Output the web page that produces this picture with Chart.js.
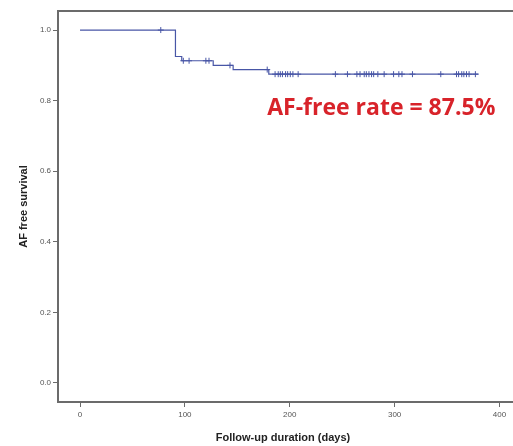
<!DOCTYPE html>
<html>
<head>
<meta charset="utf-8">
<script src="https://cdn.jsdelivr.net/npm/chart.js@4.4.0/dist/chart.umd.min.js"></script>
<style>
html,body{margin:0;padding:0;background:#fff;overflow:hidden;}
#wrap{position:relative;width:513px;height:446px;}
</style>
</head>
<body>
<div id="wrap"><canvas id="c" width="513" height="446"></canvas></div>
<script>
// Kaplan-Meier step values (days, survival)
const eventDays = [0, 91, 97, 127, 146, 180, 380];
const survival  = [1.0, 0.925, 0.913, 0.900, 0.888, 0.875, 0.875];
// Censored observations (days)
const censorDays = [77, 98.5, 104, 120, 123, 143, 178.5, 186, 189, 191, 193, 196, 198, 200.5, 203, 208,
  243.5, 255, 264, 267, 271, 273, 275.5, 278, 280, 284, 290, 299, 304, 307, 317,
  344, 359, 361, 364, 366, 368.5, 371, 377];
const xTicks = [0, 100, 200, 300, 400];
const yTicks = [0.0, 0.2, 0.4, 0.6, 0.8, 1.0];
const annotationText = 'AF-free rate = 87.5%';

function survAt(t){
  let s = survival[0];
  for (let i=0;i<eventDays.length;i++){ if (eventDays[i] <= t) s = survival[i]; }
  return s;
}

const lineColor = 'rgb(72,86,166)';
const axisColor = '#6b6b6b';

const framePlugin = {
  id:'frame',
  afterDraw(chart){
    const {ctx, chartArea:a} = chart;
    ctx.save();
    ctx.strokeStyle = axisColor;
    ctx.lineWidth = 2;
    ctx.beginPath();
    ctx.moveTo(a.left-1, a.top);
    ctx.lineTo(chart.width, a.top);
    ctx.moveTo(a.right-1, a.bottom);
    ctx.lineTo(chart.width, a.bottom);
    ctx.stroke();
    // annotation text
    const xs = chart.scales.x, ys = chart.scales.y;
    ctx.fillStyle = '#d8232a';
    ctx.font = 'bold 23px "Open Sans", "Noto Sans", sans-serif';
    ctx.textBaseline = 'alphabetic';
    ctx.textAlign = 'left';
    ctx.fillText(annotationText, xs.getPixelForValue(178.5), ys.getPixelForValue(0.759));
    ctx.restore();
  }
};

new Chart(document.getElementById('c'), {
  type:'scatter',
  data:{
    datasets:[
      {
        label:'KM',
        data: eventDays.map((d,i)=>({x:d,y:survival[i]})),
        showLine:true,
        stepped:'before',
        borderColor:lineColor,
        borderWidth:1.2,
        pointRadius:0,
        fill:false
      },
      {
        label:'Censored',
        data: censorDays.map(d=>({x:d,y:survAt(d)})),
        showLine:false,
        pointStyle:'cross',
        pointRadius:3,
        borderColor:lineColor,
        borderWidth:1,
        backgroundColor:lineColor
      }
    ]
  },
  options:{
    responsive:false,
    animation:false,
    layout:{padding:{top:11,right:0,left:0,bottom:0}},
    plugins:{legend:{display:false},tooltip:{enabled:false}},
    scales:{
      x:{
        type:'linear',
        min:-21, max:408.1,
        afterBuildTicks(s){ s.ticks = xTicks.map(v=>({value:v})); },
        afterFit(s){ s.height = 44; },
        grid:{drawOnChartArea:false, drawTicks:true, tickLength:5, color:axisColor, lineWidth:1},
        border:{display:true, color:axisColor, width:2},
        ticks:{color:'#555', font:{family:'"Liberation Sans", Arial, sans-serif', size:8}, padding:3, maxRotation:0},
        title:{display:true, text:'Follow-up duration (days)', color:'#222',
          font:{family:'"Liberation Sans", Arial, sans-serif', size:11, weight:'bold'}, padding:{top:0,bottom:1}}
      },
      y:{
        type:'linear',
        min:-0.054, max:1.054,
        afterBuildTicks(s){ s.ticks = yTicks.map(v=>({value:v})); },
        afterFit(s){ s.width = 58; },
        grid:{drawOnChartArea:false, drawTicks:true, tickLength:5, color:axisColor, lineWidth:1},
        border:{display:true, color:axisColor, width:2},
        ticks:{color:'#555', font:{family:'"Liberation Sans", Arial, sans-serif', size:8}, padding:2,
          callback:(v)=>Number(v).toFixed(1)},
        title:{display:true, text:'AF free survival', color:'#222',
          font:{family:'"Liberation Sans", Arial, sans-serif', size:11, weight:'bold'}, padding:{top:17,bottom:0}}
      }
    }
  },
  plugins:[framePlugin]
});
</script>
</body>
</html>
